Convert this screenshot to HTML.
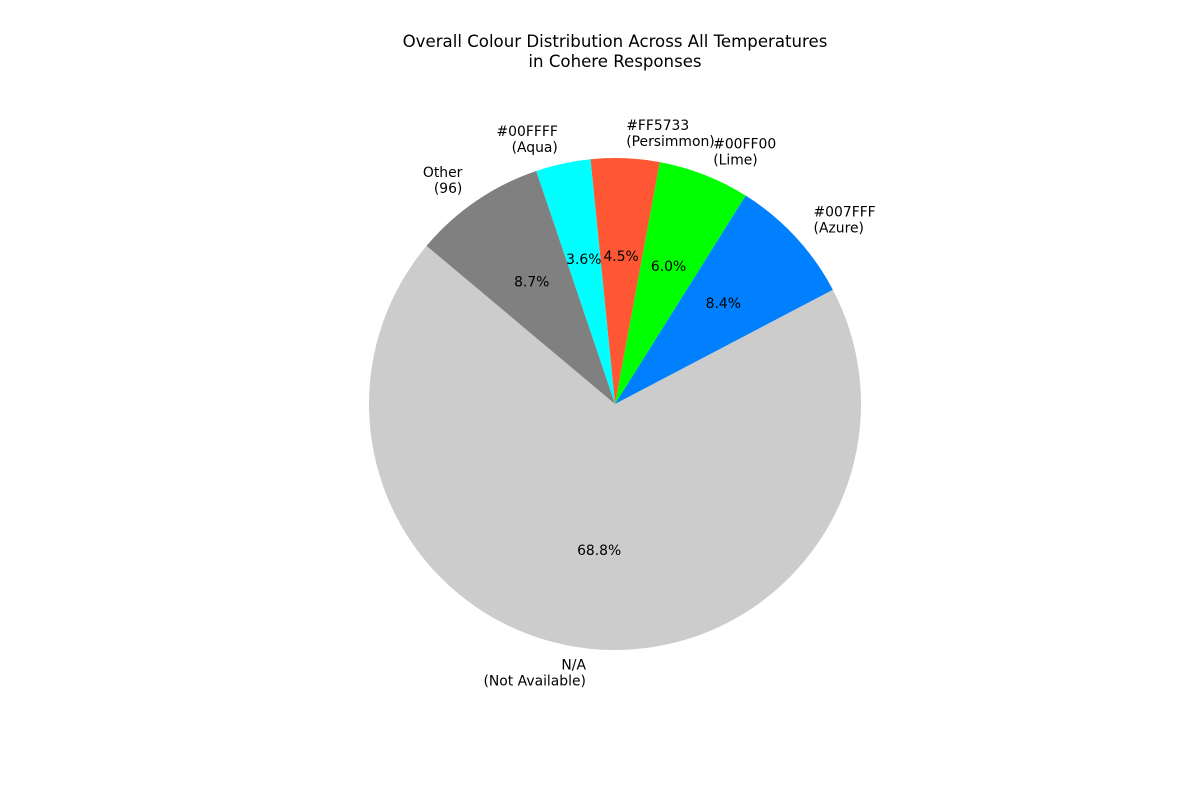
<!DOCTYPE html>
<html><head><meta charset="utf-8"><style>
body{margin:0;background:#fff;font-family:"DejaVu Sans","Liberation Sans",sans-serif;}
svg{display:block;font-family:"DejaVu Sans","Liberation Sans",sans-serif;}
</style></head><body>
<svg id="chart" width="1200" height="800" viewBox="0 0 1200 800" xmlns="http://www.w3.org/2000/svg">
<rect width="1200" height="800" fill="#fff"/>
<text x="615" y="47" text-anchor="middle" font-size="16.6" fill="#000"><tspan x="615">Overall Colour Distribution Across All Temperatures</tspan><tspan x="615" dy="20">in Cohere Responses</tspan></text>
<g id="slices"></g>
<g id="labels"></g>
</svg>
<script>
const categories = ["N/A\n(Not Available)", "#007FFF\n(Azure)", "#00FF00\n(Lime)", "#FF5733\n(Persimmon)", "#00FFFF\n(Aqua)", "Other\n(96)"];
const values = [68.8, 8.4, 6.0, 4.5, 3.6, 8.7];
const colors = ["#cccccc", "#007fff", "#00ff00", "#ff5733", "#00ffff", "#808080"];
const startAngle = 140;
const cx = 615, cy = 404, R = 246;
const NS = "http://www.w3.org/2000/svg";
const gS = document.getElementById('slices'), gL = document.getElementById('labels');
const total = values.reduce((a,b)=>a+b,0);
function pt(deg, r){const a=deg*Math.PI/180;return [cx+r*Math.cos(a), cy-r*Math.sin(a)];}
let ang = startAngle;
values.forEach((v,i)=>{
  const sweep = v/total*360;
  const a0 = ang, a1 = ang+sweep;
  const p0 = pt(a0,R), p1 = pt(a1,R);
  const path = document.createElementNS(NS,'path');
  path.setAttribute('d',`M${cx},${cy} L${p0[0]},${p0[1]} A${R},${R} 0 ${sweep>180?1:0} 0 ${p1[0]},${p1[1]} Z`);
  path.setAttribute('fill',colors[i]);
  
  
  gS.appendChild(path);
  const mid = (a0+a1)/2;
  const lp = pt(mid, R*1.1);
  const lines = categories[i].split('\n');
  const t = document.createElementNS(NS,'text');
  t.setAttribute('font-size','13.9');
  t.setAttribute('text-anchor', lp[0] < cx ? 'end' : 'start');
  
  
  const lh = 16;
  lines.forEach((ln,j)=>{
    const ts = document.createElementNS(NS,'tspan');
    ts.setAttribute('x', lp[0]);
    ts.setAttribute('y', lp[1] - (lines.length-1)*lh/2 + j*lh + 4.5);
    ts.textContent = ln;
    t.appendChild(ts);
  });
  gL.appendChild(t);
  const pp = pt(mid, R*0.6);
  const pt2 = document.createElementNS(NS,'text');
  pt2.setAttribute('x', pp[0]);
  pt2.setAttribute('y', pp[1]+4.5);
  pt2.setAttribute('font-size','13.9');
  pt2.setAttribute('text-anchor','middle');
  
  
  pt2.textContent = v.toFixed(1)+'%';
  gL.appendChild(pt2);
  ang = a1;
});
</script>
</body></html>
